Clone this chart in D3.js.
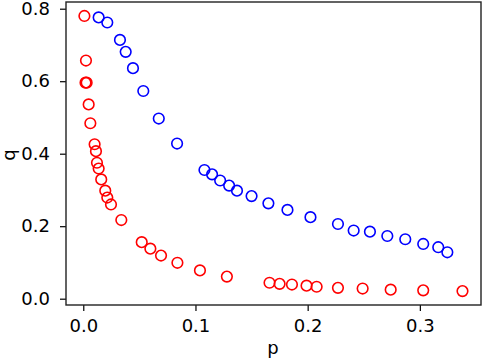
<!DOCTYPE html>
<html><head><meta charset="utf-8">
<script src="https://cdn.jsdelivr.net/npm/d3@7"></script>
<style>body{margin:0;background:#fff}svg{display:block}text{font-family:"DejaVu Sans",sans-serif}</style>
</head><body>
<svg id="c" width="484" height="363"></svg>
<script>
const redP = [0.001,0.0024,0.002,0.003,0.0048,0.0063,0.0101,0.0113,0.0122,0.0137,0.016,0.0196,0.0214,0.0247,0.0339,0.0521,0.0598,0.0693,0.0839,0.104,0.128,0.166,0.175,0.186,0.199,0.208,0.227,0.249,0.274,0.303,0.338];
const redQ = [0.780,0.657,0.596,0.596,0.536,0.484,0.426,0.407,0.375,0.359,0.329,0.298,0.279,0.260,0.217,0.156,0.138,0.119,0.099,0.078,0.061,0.044,0.041,0.039,0.036,0.033,0.030,0.028,0.025,0.023,0.021];
const blueP = [0.0137,0.0214,0.0327,0.0378,0.0443,0.0535,0.0673,0.0836,0.108,0.1148,0.122,0.130,0.137,0.150,0.165,0.182,0.2025,0.227,0.241,0.2555,0.271,0.287,0.303,0.3164,0.3245];
const blueQ = [0.776,0.762,0.714,0.681,0.636,0.573,0.497,0.428,0.355,0.343,0.326,0.312,0.298,0.283,0.263,0.245,0.225,0.206,0.188,0.185,0.173,0.164,0.151,0.142,0.128];
const xTicks = [0.0,0.1,0.2,0.3];
const yTicks = [0.0,0.2,0.4,0.6,0.8];

const svg = d3.select("#c");
const L=66, R=481, T=2, B=305;
const x = d3.scaleLinear().domain([-0.0154,0.3545]).range([L,R]);
const y = d3.scaleLinear().domain([-0.0174,0.8185]).range([B,T]);

const xa = svg.append("g").attr("transform",`translate(0,${B})`)
  .call(d3.axisBottom(x).tickValues(xTicks).tickFormat(d3.format(".1f")).tickSize(6).tickPadding(8));
const ya = svg.append("g").attr("transform",`translate(${L},0)`)
  .call(d3.axisLeft(y).tickValues(yTicks).tickFormat(d3.format(".1f")).tickSize(6).tickPadding(10));
[xa,ya].forEach(a=>{
  a.attr("font-size",null).attr("font-family",null);
  a.select(".domain").remove();
  a.selectAll("line").attr("stroke","#000").attr("stroke-width",1.2);
  a.selectAll("text").attr("font-size",18).attr("fill","#000").style("font-family","DejaVu Sans");
});
svg.append("rect").attr("x",L).attr("y",T).attr("width",R-L).attr("height",B-T)
  .attr("fill","none").attr("stroke","#222").attr("stroke-width",1.4);

function pts(P,Q,col){
  svg.append("g").selectAll("circle").data(P.map((p,i)=>[p,Q[i]])).join("circle")
    .attr("cx",d=>x(d[0])).attr("cy",d=>y(d[1])).attr("r",5.3)
    .attr("fill","none").attr("stroke",col).attr("stroke-width",1.6);
}
pts(redP,redQ,"#ff0000");
pts(blueP,blueQ,"#0000ff");

svg.append("text").attr("x",273).attr("y",354).attr("text-anchor","middle").attr("font-size",18).text("p");
svg.append("text").attr("transform","translate(15,155) rotate(-90)").attr("text-anchor","middle").attr("font-size",18).text("q");
</script>
</body></html>
